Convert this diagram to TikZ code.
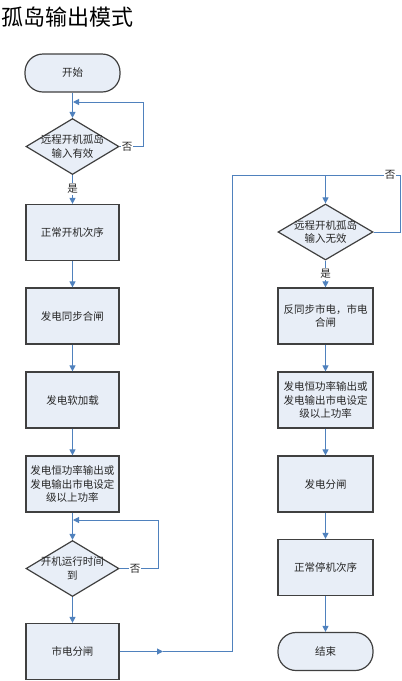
\documentclass[tikz,border=0pt]{standalone}
\usepackage{fontspec}
\setmainfont{Noto Sans CJK SC}
\usetikzlibrary{shapes.geometric,arrows.meta}
\definecolor{boxfill}{HTML}{E8EEF7}
\definecolor{boxline}{HTML}{404040}
\definecolor{conn}{HTML}{4F81BD}
\begin{document}
\begin{tikzpicture}[x=1pt,y=-1pt,
  base/.style={draw=boxline,line width=1.2pt,fill=boxfill,text=black!85,font=\fontsize{10.5}{13.5}\selectfont,align=center,inner sep=0pt},
  stepbox/.style={base,rectangle,minimum width=93pt,minimum height=56pt},
  term/.style={base,rectangle,rounded corners=18pt,minimum width=95pt,minimum height=38pt},
  dia/.style={base,diamond,minimum width=93pt,minimum height=56pt},
  txt/.style={font=\fontsize{10.5}{13.5}\selectfont,text=black!85,align=center,inner sep=0pt},
  lbl/.style={font=\fontsize{10.5}{12}\selectfont,text=black!85,fill=white,inner sep=1pt},
  conn/.style={draw=conn,line width=1pt},
  arr/.style={conn,-{Triangle[length=6pt,width=6pt]}}]
\useasboundingbox (0,0) rectangle (402,681);
\node[anchor=west,font=\fontsize{22}{24}\selectfont,inner sep=0pt] (title) at (1,17) {孤岛输出模式};
% left column
\node[term] (start) at (72.5,73) {开始};
\node[dia] (d1) at (72.5,146.5) {};
\node[txt] (d1t) at (72.5,146.5) {远程开机孤岛\\输入有效};
\node[stepbox] (b1) at (72.5,232.5) {正常开机次序};
\node[stepbox] (b2) at (72.5,316) {发电同步合闸};
\node[stepbox] (b3) at (72.5,400) {发电软加载};
\node[stepbox] (b4) at (72.5,484) {发电恒功率输出或\\发电输出市电设定\\级以上功率};
\node[dia] (d2) at (72.5,568.5) {};
\node[txt] (d2t) at (72.5,568.5) {开机运行时间\\到};
\node[stepbox] (b5) at (72.5,651.5) {市电分闸};
% right column
\node[dia,minimum width=95pt] (d3) at (325.5,232) {};
\node[txt] (d3t) at (325.5,232) {远程开机孤岛\\输入无效};
\node[stepbox,minimum width=95pt] (r1) at (325.5,316) {反同步市电，市电\\合闸};
\node[stepbox,minimum width=95pt] (r2) at (325.5,400) {发电恒功率输出或\\发电输出市电设定\\级以上功率};
\node[stepbox,minimum width=95pt] (r3) at (325.5,484) {发电分闸};
\node[stepbox,minimum width=95pt] (r4) at (325.5,567.5) {正常停机次序};
\node[term] (end) at (325.5,651.5) {结束};
% coordinates
\coordinate (j1) at (73,102);
\coordinate (l1a) at (143,146.5);
\coordinate (l1b) at (143,102);
\coordinate (j2) at (73,520);
\coordinate (l2a) at (158,568.5);
\coordinate (l2b) at (158,520);
\coordinate (m1) at (163,651.5);
\coordinate (m2) at (232,651.5);
\coordinate (m3) at (232,175);
\coordinate (j3) at (325.5,175);
\coordinate (l3a) at (400.5,232);
\coordinate (l3b) at (400.5,175);
% connectors left
\draw[arr] (start.south) -- (d1.north);
\draw[conn] (d1.east) -- (l1a) -- (l1b);
\draw[arr] (l1b) -- (j1);
\node[lbl] (no1) at (127,146.5) {否};
\draw[arr] (d1.south) -- (b1.north);
\node[lbl] (yes1) at (72.5,189) {是};
\draw[arr] (b1) -- (b2);
\draw[arr] (b2) -- (b3);
\draw[arr] (b3) -- (b4);
\draw[arr] (b4) -- (d2);
\draw[conn] (d2.east) -- (l2a) -- (l2b);
\draw[arr] (l2b) -- (j2);
\node[lbl] (no2) at (135,568.5) {否};
\draw[arr] (d2) -- (b5);
% cross connector
\draw[arr] (b5.east) -- (m1);
\draw[conn] (m1) -- (m2) -- (m3) -- (j3);
\draw[arr] (j3) -- (d3.north);
\draw[conn] (d3.east) -- (l3a) -- (l3b) -- (j3);
\node[lbl] (no3) at (390,175) {否};
% right connectors
\draw[arr] (d3.south) -- (r1.north);
\node[lbl] (yes2) at (325.5,274) {是};
\draw[arr] (r1) -- (r2);
\draw[arr] (r2) -- (r3);
\draw[arr] (r3) -- (r4);
\draw[arr] (r4) -- (end);
\end{tikzpicture}
\end{document}
